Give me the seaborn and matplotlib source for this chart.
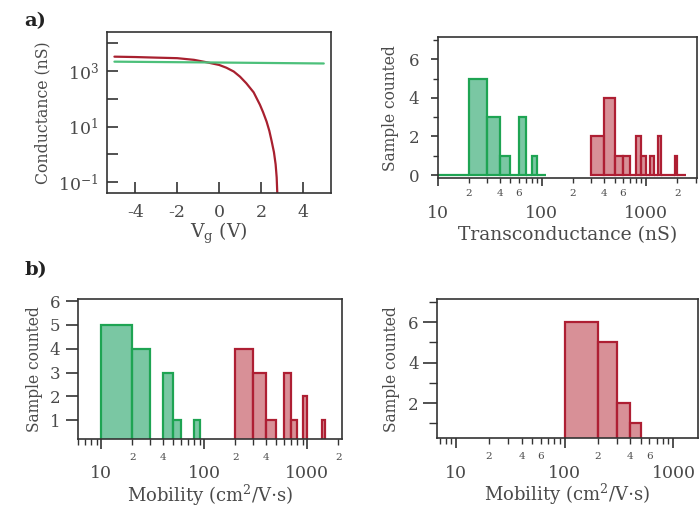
import numpy as np
import pandas as pd
import matplotlib
matplotlib.use("Agg")
import matplotlib.pyplot as plt
import matplotlib.ticker as mticker
import seaborn as sns

# a) left: conductance vs gate voltage
vg_red = [-5.0, -4.0, -3.0, -2.0, -1.2, -0.6, 0.0, 0.35, 0.7, 1.0, 1.3, 1.65, 1.95, 2.1, 2.27, 2.4, 2.51, 2.62, 2.7, 2.75, 2.78]
g_red = [3250, 3150, 3000, 2870, 2500, 2050, 1640, 1300, 950, 620, 360, 170, 61, 33, 15, 7, 3, 1.2, 0.44, 0.15, 0.04]
vg_green = [-5.0, 0.0, 5.0]
g_green = [2150, 2000, 1850]

# a) right: transconductance histograms (bin edges in nS)
gm_green_edges = [10, 20, 30, 40, 50, 60, 70, 80, 90, 100, 110]
gm_green_counts = [0, 5, 3, 1, 0, 3, 0, 1, 0, 0]
gm_red_edges = [300, 400, 500, 600, 700, 800, 900, 1000, 1100, 1200, 1300, 1400,
                1500, 1600, 1700, 1800, 1900, 2000, 2100, 2200, 2300, 2400]
gm_red_counts = [2, 4, 1, 1, 0, 2, 1, 0, 1, 0, 2, 0, 0, 0, 0, 0, 1, 0, 0, 0, 0]

# b) left: mobility histograms
mob_green_edges = [10, 20, 30, 40, 50, 60, 70, 80, 90]
mob_green_counts = [5, 4, 0, 3, 1, 0, 0, 1]
mob_red_edges = [200, 300, 400, 500, 600, 700, 800, 900, 1000, 1100, 1200, 1300, 1400, 1500]
mob_red_counts = [4, 3, 1, 0, 3, 1, 0, 2, 0, 0, 0, 0, 1]

# b) right: mobility histogram
mob2_red_edges = [100, 200, 300, 400, 500]
mob2_red_counts = [6, 5, 2, 1]

# which minor ticks get a small label
gm_minor_labels = [20, 40, 60, 200, 400, 600, 2000]
mob_minor_labels = [20, 40, 200, 400, 2000]
mob2_minor_labels = [20, 40, 60, 200, 400, 600]

GREEN_EDGE = "#1ea453"
GREEN_FILL = (0.30, 0.71, 0.52, 0.75)
RED_EDGE = "#ae1f33"
RED_FILL = (0.80, 0.42, 0.46, 0.75)
TXT = "#4a4a4a"

sns.set_theme(style="ticks")
plt.rcParams["font.family"] = ["DejaVu Serif"]
plt.rcParams["mathtext.fontset"] = "dejavuserif"
plt.rcParams["axes.unicode_minus"] = False
plt.rcParams["text.color"] = TXT
plt.rcParams["axes.labelcolor"] = TXT
plt.rcParams["xtick.color"] = "#333333"
plt.rcParams["ytick.color"] = "#333333"
plt.rcParams["xtick.labelcolor"] = TXT
plt.rcParams["ytick.labelcolor"] = TXT
plt.rcParams["axes.edgecolor"] = "#333333"
plt.rcParams["axes.linewidth"] = 1.2


def hist(ax, edges, counts, face, edge):
    edges = np.asarray(edges, float)
    df = pd.DataFrame({"v": np.sqrt(edges[:-1] * edges[1:]), "n": counts})
    sns.histplot(data=df, x="v", weights="n", bins=list(np.log10(edges)), log_scale=True,
                 element="bars", fill=True, facecolor=face, edgecolor=edge,
                 linewidth=1.6, ax=ax)


def log_xaxis(ax, lo, hi, labelled, major_pad, minor_pad, maj_len, min_len):
    ax.set_xlim(lo, hi)
    ax.xaxis.set_major_locator(mticker.FixedLocator([10, 100, 1000]))
    ax.xaxis.set_major_formatter(mticker.FixedFormatter(["10", "100", "1000"]))
    ax.xaxis.set_minor_locator(mticker.LogLocator(base=10, subs=np.arange(2, 10)))
    lab = set(labelled)

    def fmt(v, pos):
        for l in lab:
            if abs(v - l) / l < 1e-6:
                return "%d" % round(l / 10 ** np.floor(np.log10(l)))
        return ""
    ax.xaxis.set_minor_formatter(mticker.FuncFormatter(fmt))
    ax.tick_params(axis="x", which="major", direction="out", length=maj_len, width=1.2,
                   pad=major_pad, labelsize=12.5)
    ax.tick_params(axis="x", which="minor", direction="out", length=min_len, width=1.0,
                   pad=minor_pad, labelsize=7.5)


fig = plt.figure(figsize=(7.0, 5.08), dpi=100)

# ---- a) left
ax1 = fig.add_axes([0.153, 0.620, 0.320, 0.317])
sns.lineplot(x=vg_red, y=g_red, color="#a8202f", linewidth=1.6, ax=ax1)
sns.lineplot(x=vg_green, y=g_green, color="#4cc07a", linewidth=1.6, ax=ax1)
ax1.set_yscale("log")
ax1.set_ylim(0.041, 2.5e4)
ax1.set_xlim(-5.35, 5.35)
ax1.yaxis.set_major_locator(mticker.FixedLocator([1e-1, 1e0, 1e1, 1e2, 1e3, 1e4]))
ax1.yaxis.set_major_formatter(mticker.FixedFormatter(
    ["10$^{-1}$", "", "10$^{1}$", "", "10$^{3}$", ""]))
ax1.yaxis.set_minor_locator(mticker.NullLocator())
ax1.set_xticks([-4, -2, 0, 2, 4])
ax1.tick_params(axis="both", direction="in", length=8, width=1.2, labelsize=12.5)
ax1.tick_params(axis="x", pad=8)
ax1.tick_params(axis="y", pad=6)
ax1.set_xlabel(r"V$_\mathrm{g}$ (V)", fontsize=13.5, labelpad=0)
ax1.set_ylabel("Conductance (nS)", fontsize=11.3, labelpad=5)

# ---- a) right
ax2 = fig.add_axes([0.625, 0.649, 0.371, 0.278])
hist(ax2, gm_green_edges, gm_green_counts, GREEN_FILL, GREEN_EDGE)
hist(ax2, gm_red_edges, gm_red_counts, RED_FILL, RED_EDGE)
log_xaxis(ax2, 10, 3100, gm_minor_labels, 13, 4, 6, 3.5)
ax2.set_ylim(-0.17, 7.15)
ax2.yaxis.set_major_locator(mticker.FixedLocator([0, 2, 4, 6]))
ax2.yaxis.set_minor_locator(mticker.FixedLocator([1, 3, 5, 7]))
ax2.tick_params(axis="y", which="major", direction="out", length=5.3, width=1.2, pad=8, labelsize=12)
ax2.tick_params(axis="y", which="minor", direction="out", length=3.4, width=1.0)
ax2.set_xlabel("Transconductance (nS)", fontsize=13.5, labelpad=3)
ax2.set_ylabel("Sample counted", fontsize=11.2, labelpad=7)

# ---- b) left
ax3 = fig.add_axes([0.112, 0.136, 0.376, 0.276])
hist(ax3, mob_green_edges, mob_green_counts, GREEN_FILL, GREEN_EDGE)
hist(ax3, mob_red_edges, mob_red_counts, RED_FILL, RED_EDGE)
log_xaxis(ax3, 6.0, 2150, mob_minor_labels, 12, 6, 7, 4)
ax3.set_ylim(0.22, 6.1)
ax3.set_yticks([1, 2, 3, 4, 5, 6])
ax3.tick_params(axis="y", direction="out", length=9, width=1.2, pad=4, labelsize=12)
ax3.set_xlabel(r"Mobility (cm$^2$/V$\cdot$s)", fontsize=13, labelpad=0)
ax3.set_ylabel("Sample counted", fontsize=11.2, labelpad=5)

# ---- b) right
ax4 = fig.add_axes([0.624, 0.137, 0.373, 0.274])
hist(ax4, mob2_red_edges, mob2_red_counts, RED_FILL, RED_EDGE)
log_xaxis(ax4, 6.6, 1680, mob2_minor_labels, 12, 6, 7, 4)
ax4.set_ylim(0.26, 7.13)
ax4.yaxis.set_major_locator(mticker.FixedLocator([2, 4, 6]))
ax4.yaxis.set_minor_locator(mticker.FixedLocator([1, 3, 5, 7]))
ax4.tick_params(axis="y", which="major", direction="out", length=10, width=1.2, pad=3, labelsize=12)
ax4.tick_params(axis="y", which="minor", direction="out", length=6, width=1.0)
ax4.set_xlabel(r"Mobility (cm$^2$/V$\cdot$s)", fontsize=13, labelpad=0)
ax4.set_ylabel("Sample counted", fontsize=11.2, labelpad=6)

for ax in (ax1, ax2, ax3, ax4):
    for s in ax.spines.values():
        s.set_visible(True)
    ax.grid(False)

fig.text(0.035, 0.958, "a)", fontsize=14, fontweight="bold", color="#222222", va="center")
fig.text(0.035, 0.468, "b)", fontsize=14, fontweight="bold", color="#222222", va="center")

fig.savefig("out.png", dpi=100)
